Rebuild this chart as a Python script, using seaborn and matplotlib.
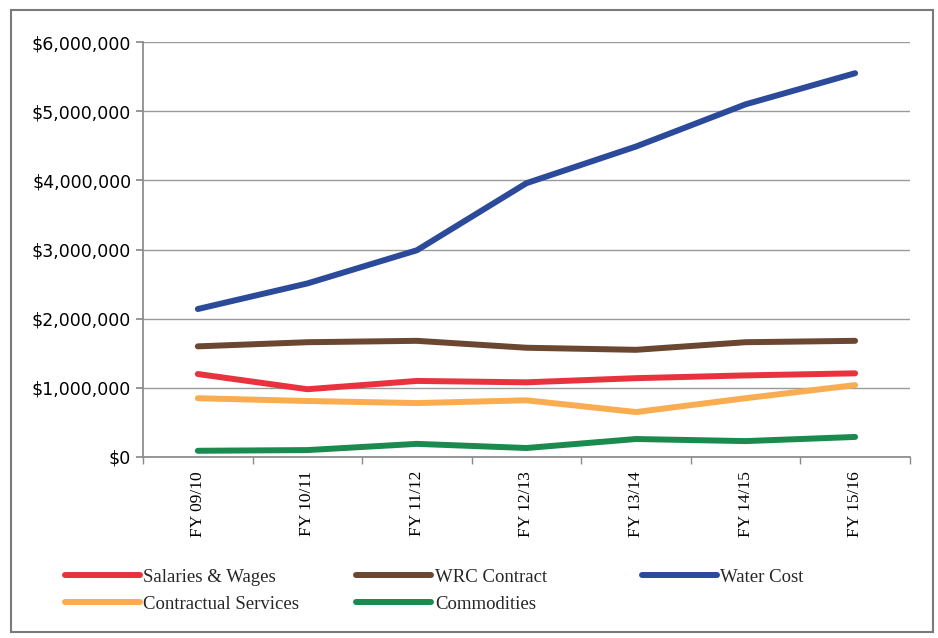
import matplotlib
matplotlib.use("Agg")
import matplotlib.pyplot as plt
import matplotlib.ticker as mticker
from matplotlib.patches import Rectangle
from matplotlib.lines import Line2D
import seaborn as sns
import pandas as pd

years = ["FY 09/10", "FY 10/11", "FY 11/12", "FY 12/13", "FY 13/14", "FY 14/15", "FY 15/16"]
salaries = [1200000, 980000, 1100000, 1080000, 1140000, 1180000, 1210000]
wrc = [1600000, 1660000, 1680000, 1580000, 1550000, 1660000, 1680000]
water = [2140000, 2510000, 2990000, 3960000, 4490000, 5100000, 5550000]
contractual = [850000, 810000, 780000, 820000, 650000, 850000, 1040000]
commodities = [90000, 100000, 190000, 130000, 260000, 230000, 290000]

series = {
    "Salaries & Wages": salaries,
    "WRC Contract": wrc,
    "Water Cost": water,
    "Contractual Services": contractual,
    "Commodities": commodities,
}
colors = {
    "Salaries & Wages": "#e8333f",
    "WRC Contract": "#6b4630",
    "Water Cost": "#2c4a9a",
    "Contractual Services": "#f9ad50",
    "Commodities": "#1a8a4e",
}

rows = []
for name, vals in series.items():
    for i, v in enumerate(vals):
        rows.append({"idx": i, "value": v, "series": name})
df = pd.DataFrame(rows)

sns.set_theme(style="white")
fig = plt.figure(figsize=(9.38, 6.38), dpi=100)
ax = fig.add_axes([0.1525, 0.2837, 0.8175, 0.6503])

sns.lineplot(data=df, x="idx", y="value", hue="series", palette=colors,
             linewidth=4.3, ax=ax, legend=False, solid_capstyle="round")

ax.set_xlim(-0.5, 6.5)
ax.set_ylim(0, 6000000)
ax.yaxis.set_major_locator(mticker.MultipleLocator(1000000))
ax.yaxis.set_major_formatter(mticker.FuncFormatter(lambda v, p: "${:,.0f}".format(v)))
ax.grid(axis="y", color="#9a9a9a", linewidth=1.0)
ax.set_axisbelow(True)
for s in ["top", "right"]:
    ax.spines[s].set_visible(False)
ax.spines["left"].set_color("#8a8a8a")
ax.spines["bottom"].set_color("#8a8a8a")

ax.set_xticks(range(len(years)))
ax.set_xticklabels(years, rotation=90, family="Liberation Serif", fontsize=12.5, color="black")
ax.set_xticks([i - 0.5 for i in range(len(years) + 1)], minor=True)
ax.tick_params(axis="x", which="major", length=0, pad=10)
ax.tick_params(axis="x", which="minor", length=5, color="#8a8a8a", direction="out", bottom=True)
ax.tick_params(axis="y", length=5, color="#8a8a8a", direction="out", left=True,
               labelsize=12.5, labelcolor="black")
for lbl in ax.get_yticklabels():
    lbl.set_family("DejaVu Sans")
ax.set_xlabel("")
ax.set_ylabel("")

# legend laid out as three fixed-width columns, two rows
legend_cols = [
    (0.069, ["Salaries & Wages", "Contractual Services"]),
    (0.380, ["WRC Contract", "Commodities"]),
    (0.684, ["Water Cost"]),
]
for x0, names in legend_cols:
    handles = [Line2D([0], [0], color=colors[n], linewidth=4.3, solid_capstyle="round")
               for n in names]
    leg = fig.legend(handles, names, loc="upper left", bbox_to_anchor=(x0, 0.109),
                     ncol=1, frameon=False, handlelength=4.0, handletextpad=0.2,
                     labelspacing=0.55, borderaxespad=0, borderpad=0,
                     prop={"family": "Liberation Serif", "size": 13.5})

fig.patches.append(Rectangle((0.012, 0.01), 0.983, 0.975, transform=fig.transFigure,
                             fill=False, edgecolor="#7a7a7a", linewidth=1.5))

fig.savefig("out.png", dpi=100)
